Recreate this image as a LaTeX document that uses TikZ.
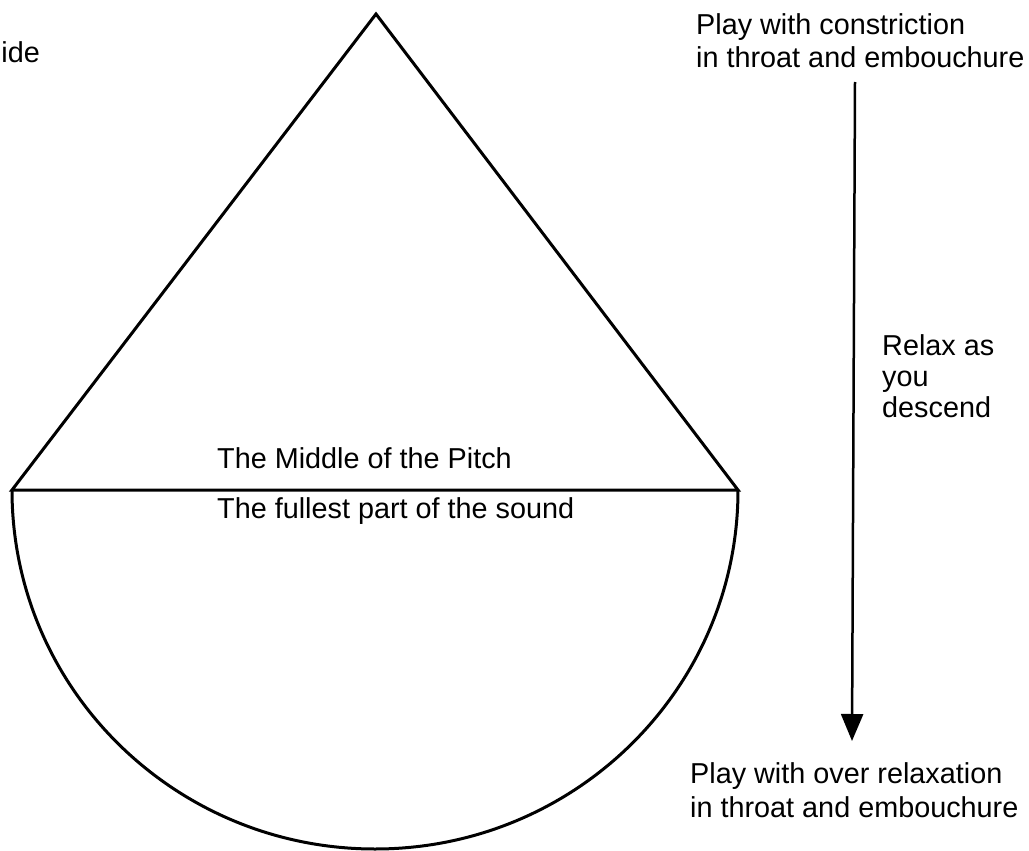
\documentclass[tikz,border=0pt]{standalone}
\usepackage{fontspec}
\setmainfont{Liberation Sans}
\usetikzlibrary{arrows.meta}
\begin{document}
\begin{tikzpicture}[x=1pt,y=1pt,
  shapeline/.style={line width=3pt, line join=miter},
  lbl/.style={inner sep=0pt, anchor=base west, font=\fontsize{28.8}{33}\selectfont},
  arr/.style={line width=2.5pt, -{Triangle[length=27pt,width=22pt]}}]
\useasboundingbox (0,0) rectangle (1029,-851);
\coordinate (apex) at (376,-14);
\coordinate (L) at (12,-490);
\coordinate (R) at (738,-490);
\draw[shapeline] (L) -- (apex) -- (R) -- cycle;
\draw[shapeline] (L) arc[start angle=180, end angle=360, x radius=363, y radius=359];
\node[lbl, anchor=base east] (ide) at (40,-63) {ide};
\node[lbl] (mid) at (217,-468) {The Middle of the Pitch};
\node[lbl] (full) at (217,-518) {The fullest part of the sound};
\node[lbl] (t1) at (696,-35) {Play with constriction};
\node[lbl] (t2) at (696,-68) {in throat and embouchure};
\node[lbl] (r1) at (882,-355) {Relax as};
\node[lbl] (r2) at (882,-386) {you};
\node[lbl] (r3) at (882,-417) {descend};
\node[lbl] (b1) at (690,-783) {Play with over relaxation};
\node[lbl] (b2) at (690,-817) {in throat and embouchure};
\coordinate (atop) at (855,-82);
\coordinate (abot) at (852,-741);
\draw[arr] (atop) -- (abot);
\end{tikzpicture}
\end{document}
